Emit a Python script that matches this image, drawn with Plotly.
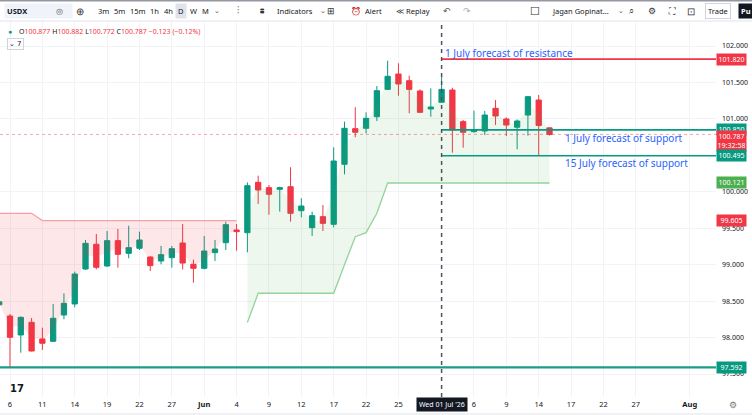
import pandas as pd
import plotly.graph_objects as go

# ---------------- data ----------------
dates = ["2026-05-05", "2026-05-06", "2026-05-07", "2026-05-08", "2026-05-11", "2026-05-12",
         "2026-05-13", "2026-05-14", "2026-05-15", "2026-05-18", "2026-05-19", "2026-05-20",
         "2026-05-21", "2026-05-22", "2026-05-25", "2026-05-26", "2026-05-27", "2026-05-28",
         "2026-05-29", "2026-06-01", "2026-06-02", "2026-06-03", "2026-06-04", "2026-06-05",
         "2026-06-08", "2026-06-09", "2026-06-10", "2026-06-11", "2026-06-12", "2026-06-15",
         "2026-06-16", "2026-06-17", "2026-06-18", "2026-06-19", "2026-06-22", "2026-06-23",
         "2026-06-24", "2026-06-25", "2026-06-26", "2026-06-29", "2026-06-30", "2026-07-01",
         "2026-07-02", "2026-07-03", "2026-07-06", "2026-07-07", "2026-07-08", "2026-07-09",
         "2026-07-10", "2026-07-13", "2026-07-14", "2026-07-15"]
opens = [98.450, 98.296, 98.036, 98.209, 97.981, 97.949, 98.310, 98.461, 98.941, 99.280,
         98.982, 99.330, 99.156, 99.225, 99.106, 99.051, 99.096, 99.298, 99.005, 98.950,
         99.165, 99.302, 99.476, 99.439, 100.130, 100.057, 100.034, 100.070, 99.741, 99.508,
         99.659, 99.554, 100.377, 100.866, 100.871, 101.030, 101.405, 101.616, 101.524, 101.383,
         101.136, 101.228, 101.396, 100.962, 100.825, 100.834, 101.145, 100.999, 100.885, 101.053,
         101.259, 100.877]
highs = [98.490, 98.324, 98.290, 98.269, 98.136, 98.461, 98.607, 98.904, 99.339, 99.421,
         99.462, 99.490, 99.535, 99.453, 99.115, 99.257, 99.257, 99.558, 99.069, 99.394,
         99.339, 99.590, 99.558, 100.130, 100.221, 100.093, 100.070, 100.336, 99.911, 99.728,
         99.819, 100.610, 100.962, 101.159, 101.090, 101.451, 101.799, 101.763, 101.593, 101.405,
         101.419, 101.588, 101.428, 100.985, 101.113, 101.108, 101.259, 101.022, 100.994, 101.314,
         101.328, 100.882]
lows = [98.450, 97.592, 97.793, 97.810, 97.830, 97.940, 98.251, 98.415, 98.930, 98.936,
        98.970, 98.959, 99.088, 99.202, 98.914, 99.005, 98.959, 98.936, 98.753, 98.936,
        99.051, 99.202, 99.192, 99.170, 99.833, 99.686, 99.728, 99.591, 99.650, 99.394,
        99.462, 99.513, 100.240, 100.748, 100.802, 100.971, 101.400, 101.318, 101.077, 101.080,
        101.030, 101.220, 100.537, 100.605, 100.811, 100.779, 100.916, 100.765, 100.583, 100.770,
        100.505, 100.772]
closes = [98.490, 98.004, 98.278, 97.816, 97.922, 98.265, 98.470, 98.872, 99.293, 98.964,
          99.330, 99.142, 99.234, 99.339, 98.987, 99.138, 99.220, 99.023, 98.950, 99.188,
          99.215, 99.549, 99.453, 100.084, 100.025, 99.966, 100.057, 99.705, 99.805, 99.673,
          99.567, 100.422, 100.871, 100.816, 101.008, 101.387, 101.584, 101.479, 101.405, 101.090,
          101.163, 101.405, 100.848, 100.816, 100.848, 101.053, 101.040, 100.916, 100.971, 101.305,
          100.910, 100.787]

# Supertrend (bearish part then bullish part)
st_red_dates = dates[0:23]
st_red = [99.705, 99.705, 99.705, 99.705] + [99.605] * 19
st_green_dates = dates[23:]
st_green = [98.207] + [98.608] * 8 + [99.000, 99.384, 99.440, 99.705] + [100.121] * 16

# Drawn levels
resistance_jul1 = 101.820
support_jul1 = 100.850
support_jul15 = 100.495
base_support = 97.592
last_price = 100.787
forecast_date = "2026-07-01"

# Axis ticks
x_tick_dates = ["2026-05-06", "2026-05-11", "2026-05-14", "2026-05-19", "2026-05-22", "2026-05-27",
                "2026-06-01", "2026-06-04", "2026-06-09", "2026-06-12", "2026-06-17", "2026-06-22",
                "2026-06-25", "2026-07-06", "2026-07-09", "2026-07-14", "2026-07-17", "2026-07-22",
                "2026-07-27", "2026-08-03"]
x_tick_text = ["6", "11", "14", "19", "22", "27", "<b>Jun</b>", "4", "9", "12", "17", "22",
               "25", "6", "9", "14", "17", "22", "27", "<b>Aug</b>"]
y_tick_vals = [97.5, 98.0, 98.5, 99.0, 99.5, 100.0, 101.0, 101.5, 102.0]

# ---------------- helpers ----------------
cal = pd.bdate_range("2026-05-05", "2026-08-10")
pos = {d.strftime("%Y-%m-%d"): i for i, d in enumerate(cal)}
X = lambda ds: [pos[d] for d in ds]

xs = X(dates)
BAR_PX = 10.79
x_left = pos["2026-05-06"] - 10 / BAR_PX
x_right = pos["2026-05-06"] + (716 - 10) / BAR_PX
y_lo, y_hi = 97.185, 102.343
xf = pos[forecast_date]

GREEN = "#089981"
RED = "#f23645"
BLUE = "#2962ff"
TXT = "#131722"
FONT = "Noto Sans"

mids = [(o + c) / 2 for o, c in zip(opens, closes)]

fig = go.Figure()

# supertrend fills
fig.add_trace(go.Scatter(x=X(st_red_dates), y=mids[0:23], mode="lines", line=dict(width=0),
                         hoverinfo="skip", showlegend=False))
fig.add_trace(go.Scatter(x=X(st_red_dates), y=st_red, mode="lines", fill="tonexty",
                         fillcolor="rgba(242,54,69,0.12)", line=dict(color="#f5a0a6", width=1.3),
                         hoverinfo="skip", showlegend=False))
fig.add_trace(go.Scatter(x=X(st_green_dates), y=mids[23:], mode="lines", line=dict(width=0),
                         hoverinfo="skip", showlegend=False))
fig.add_trace(go.Scatter(x=X(st_green_dates), y=st_green, mode="lines", fill="tonexty",
                         fillcolor="rgba(76,175,80,0.10)", line=dict(color="#93d39c", width=1.3),
                         hoverinfo="skip", showlegend=False))

# last price dotted line
fig.add_trace(go.Scatter(x=[x_left, x_right], y=[last_price, last_price], mode="lines",
                         line=dict(color="rgba(242,54,69,0.45)", width=1, dash="dot"),
                         hoverinfo="skip", showlegend=False))

# candles
fig.add_trace(go.Candlestick(
    x=xs, open=opens, high=highs, low=lows, close=closes,
    increasing=dict(line=dict(color=GREEN, width=1), fillcolor=GREEN),
    decreasing=dict(line=dict(color=RED, width=1), fillcolor=RED),
    whiskerwidth=0, showlegend=False, hoverinfo="skip"))

# drawn horizontal levels
fig.add_trace(go.Scatter(x=[x_left, x_right], y=[base_support, base_support], mode="lines",
                         line=dict(color="#1a9c87", width=2.2), hoverinfo="skip", showlegend=False))
for lvl, col in [(resistance_jul1, RED), (support_jul1, GREEN), (support_jul15, GREEN)]:
    fig.add_trace(go.Scatter(x=[xf, x_right], y=[lvl, lvl], mode="lines",
                             line=dict(color=col, width=1.6), hoverinfo="skip", showlegend=False))

# vertical dashed line at forecast date
fig.add_shape(type="line", xref="x", yref="paper", x0=xf, x1=xf, y0=0, y1=1,
              line=dict(color="#50535e", width=1.5, dash="4px,4px"))

# helpers for pixel placement of UI text
PX = lambda p: p / 716
PY = lambda p: (397 - p) / 376

ann = []

# forecast texts
ann.append(dict(x=xf, y=101.908, xref="x", yref="y", xanchor="left", yanchor="middle", xshift=1,
                text="1 July forecast of resistance", showarrow=False,
                font=dict(color=BLUE, size=10, family=FONT)))
ann.append(dict(x=x_left + 563 / BAR_PX, y=100.743, xref="x", yref="y", xanchor="left",
                yanchor="middle", text="1 July forecast of support", showarrow=False,
                font=dict(color=BLUE, size=10, family=FONT)))
ann.append(dict(x=x_left + 563 / BAR_PX, y=100.392, xref="x", yref="y", xanchor="left",
                yanchor="middle", text="15 July forecast of support", showarrow=False,
                font=dict(color=BLUE, size=10, family=FONT)))

# right price-axis labels
def plabel(val, col, text=None, yanchor="middle", yshift=0):
    ann.append(dict(x=1, y=val, xref="paper", yref="y", xanchor="left", yanchor=yanchor,
                    yshift=yshift, text=text or f"{val:.3f}", showarrow=False, bgcolor=col,
                    font=dict(color="white", size=7, family=FONT), borderpad=1, width=27,
                    align="center"))

plabel(resistance_jul1, RED)
plabel(support_jul1, GREEN)
plabel(last_price, RED, text=f"{last_price:.3f}<br>19:32:58", yanchor="top", yshift=4)
plabel(support_jul15, GREEN)
plabel(st_green[-1], "#4caf50")
plabel(st_red[-1], RED)
plabel(base_support, GREEN)


def pann(xp, yp, text, size=7.5, color=TXT, anchor="center", family=FONT, **kw):
    ann.append(dict(x=PX(xp), y=PY(yp), xref="paper", yref="paper", xanchor=anchor,
                    yanchor="middle", text=text, showarrow=False,
                    font=dict(color=color, size=size, family=family), **kw))


# crosshair date label
ann.append(dict(x=xf, y=PY(405), xref="x", yref="paper", xanchor="center", yanchor="middle",
                text="Wed 01 Jul '26", showarrow=False, bgcolor=TXT,
                font=dict(color="white", size=7, family=FONT), borderpad=2))

# OHLC legend row
o, h, l, c = opens[-1], highs[-1], lows[-1], closes[-1]
chg = c - closes[-2]
leg = (f"<span style='color:{TXT}'>O</span>{o:.3f} <span style='color:{TXT}'>H</span>{h:.3f} "
       f"<span style='color:{TXT}'>L</span>{l:.3f} <span style='color:{TXT}'>C</span>{c:.3f} "
       f"\u2212{abs(chg):.3f} (\u2212{abs(chg) / closes[-2] * 100:.2f}%)")
pann(17, 31.5, leg, size=7, color=RED, anchor="left")
pann(10, 31.5, "●", size=7, color=GREEN)
pann(7, 44, "⌄ 7", size=7, anchor="left", family="DejaVu Sans",
     bordercolor="#d1d4dc", borderwidth=1, borderpad=1)

# toolbar
TY = 11
pann(4, TY, "<b>USDX</b>" + "&nbsp;" * 22, anchor="left", bgcolor="#f0f3fa", borderpad=2)
pann(60, TY, "◎", size=8, color="#555")
pann(80, TY, "⊕", size=10, color="#333")
for xp, t in [(103, "3m"), (119, "5m"), (138, "15m"), (154, "1h"), (168, "4h"),
              (193, "W"), (205, "M")]:
    pann(xp, TY, t)
pann(181, TY, "D", bgcolor="#e0e3eb", borderpad=2)
pann(217, TY, "⌄", size=7, color="#555")
pann(238, TY, "⫶", size=9, color="#333")
pann(262, TY, "⩩", size=8, color="#333")
pann(295, TY, "Indicators")
pann(323, TY, "⌄", size=7, color="#555")
pann(331, TY, "⊞", size=9, color="#333")
pann(356, TY, "⏰", size=8, color="#333")
pann(373, TY, "Alert")
pann(400, TY, "≪", size=8, color="#333")
pann(418, TY, "Replay")
pann(447, TY, "↶", size=9, color="#555")
pann(467, TY, "↷", size=9, color="#aaa")
pann(535, TY, "☐", size=11, color="#333")
pann(580, TY, "Jagan Gopinat...")
pann(621, TY, "⌄", size=7, color="#555")
pann(631, TY, "⌕", size=9, color="#333")
pann(652, TY, "⚙", size=9, color="#333")
pann(672, TY, "⛶", size=9, color="#333")
pann(691, TY, "⊡", size=10, color="#333")
pann(718, TY, "Trade", bordercolor="#d1d4dc", borderwidth=1, borderpad=2)
pann(738, TY, "<b>Pu</b>", color="white", bgcolor="#131722", borderpad=2, anchor="left")

# logo and settings glyph
pann(8, 388, "<b>17</b>", size=10, anchor="left", family="DejaVu Sans")
pann(733, 405, "⚙", size=9, color="#777")

fig.update_layout(annotations=ann)

# frame lines (toolbar separator, top border, bottom border)
for yp, col, w in [(21, "#e0e3eb", 1), (0.5, "#9598a1", 2), (414, "#e0e3eb", 1)]:
    fig.add_shape(type="line", xref="paper", yref="paper", x0=0, x1=PX(752), y0=PY(yp),
                  y1=PY(yp), line=dict(color=col, width=w))

fig.update_layout(
    width=752, height=415,
    margin=dict(l=0, r=36, t=21, b=18),
    paper_bgcolor="white", plot_bgcolor="white",
    showlegend=False,
    xaxis=dict(range=[x_left, x_right], rangeslider=dict(visible=False),
               tickvals=X(x_tick_dates), ticktext=x_tick_text, showgrid=True,
               gridcolor="#f2f3f7", gridwidth=1, zeroline=False, showline=False, ticks="",
               tickfont=dict(size=7.5, color=TXT, family=FONT), ticklabelstandoff=1),
    yaxis=dict(range=[y_lo, y_hi], side="right", tickvals=y_tick_vals,
               ticktext=[f"{v:.3f}" for v in y_tick_vals], showgrid=True, gridcolor="#f2f3f7",
               zeroline=False, showline=False, ticks="",
               tickfont=dict(size=7, color=TXT, family=FONT), ticklabelstandoff=5),
)

fig.write_html("out.html", config={"displayModeBar": False},
               post_script="document.body.style.margin='0';document.body.style.overflow='hidden';")
